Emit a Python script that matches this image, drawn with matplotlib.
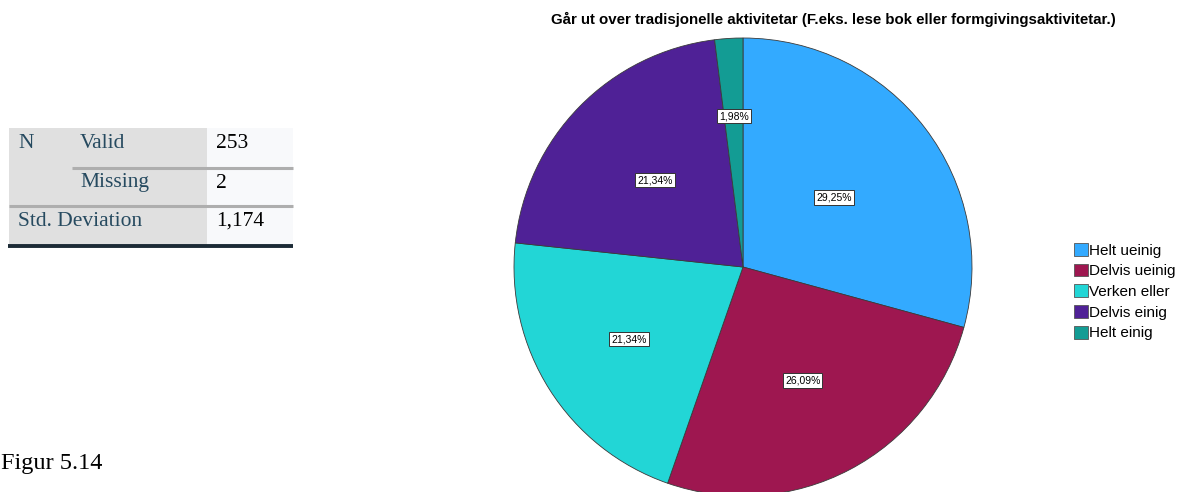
import matplotlib.pyplot as plt
import matplotlib.patches as mpatches
import numpy as np

categories = ['Helt ueinig', 'Delvis ueinig', 'Verken eller', 'Delvis einig', 'Helt einig']
percents = [29.25, 26.09, 21.34, 21.34, 1.98]
colors = ['#33AAFF', '#9E1750', '#22D6D6', '#4F2196', '#139C94']
label_r = [0.50, 0.56, 0.59, 0.54, 0.66]

title = 'Går ut over tradisjonelle aktivitetar (F.eks. lese bok eller formgivingsaktivitetar.)'
table_rows = [('N', 'Valid', '253'), ('', 'Missing', '2'), ('Std. Deviation', '', '1,174')]

W, H = 1185, 492
fig = plt.figure(figsize=(W / 100, H / 100), dpi=100)

def fx(px):
    return px / W

def fy(py):
    return 1 - py / H

# --- statistics table (left) ---
bg = fig.add_axes([0, 0, 1, 1], zorder=0)
bg.set_xlim(0, W)
bg.set_ylim(H, 0)
bg.axis('off')
bg.add_patch(mpatches.Rectangle((9, 128), 198, 117, color='#E0E0E0', lw=0))
bg.add_patch(mpatches.Rectangle((207, 128), 86, 117, color='#F8F9FB', lw=0))
bg.plot([72, 293], [167.5, 167.5], color='#AEAEAE', lw=2.2, solid_capstyle='butt')
bg.plot([9, 293], [205.5, 205.5], color='#AEAEAE', lw=2.2, solid_capstyle='butt')
bg.plot([8, 293], [245.5, 245.5], color='#1C2B36', lw=2.8, solid_capstyle='butt')

tfont = dict(family='Liberation Serif', fontsize=15.5, va='center')
row_y = [143, 183, 221]
for (a, b, v), y in zip(table_rows, row_y):
    bg.text(18, y, a, color='#264A60', **tfont)
    bg.text(80, y, b, color='#264A60', **tfont)
    bg.text(216, y, v, color='#000000', **tfont)

bg.text(1, 463, 'Figur 5.14', family='Liberation Serif', fontsize=17.5, va='center', color='#000000')

# --- pie ---
cx, cy, R = 743, 267, 229
ax = fig.add_axes([fx(cx - R), fy(cy + R), 2 * R / W, 2 * R / H], zorder=1)
ax.set_aspect('equal')
ax.axis('off')
wedges, _ = ax.pie(percents, colors=colors, startangle=90, counterclock=False, radius=1,
                   wedgeprops=dict(edgecolor='#3A3A3A', linewidth=0.6))
ax.set_xlim(-1, 1)
ax.set_ylim(-1, 1)

cum = np.cumsum([0] + percents[:-1])
for p, c0, r in zip(percents, cum, label_r):
    ang = np.deg2rad(90 - (c0 + p / 2) * 3.6)
    ax.text(r * np.cos(ang), r * np.sin(ang), ('%.2f%%' % p).replace('.', ','),
            ha='center', va='center', fontsize=7.5, family='Liberation Sans',
            bbox=dict(boxstyle='square,pad=0.2', facecolor='white', edgecolor='#333333', linewidth=0.7))

fig.text(fx(833), fy(19), title, ha='center', va='center', fontsize=10.8,
         fontweight='bold', family='Liberation Sans')

handles = [mpatches.Patch(facecolor=c, edgecolor='#555555', linewidth=0.6, label=l)
           for c, l in zip(colors, categories)]
fig.legend(handles=handles, loc='upper left', bbox_to_anchor=(fx(1074), fy(243)),
           frameon=False, prop={'family': 'Liberation Sans', 'size': 11.0},
           handlelength=0.9, handleheight=0.9, handletextpad=0.1, labelspacing=0.4,
           borderaxespad=0, borderpad=0)

fig.savefig('out.png', dpi=100)
